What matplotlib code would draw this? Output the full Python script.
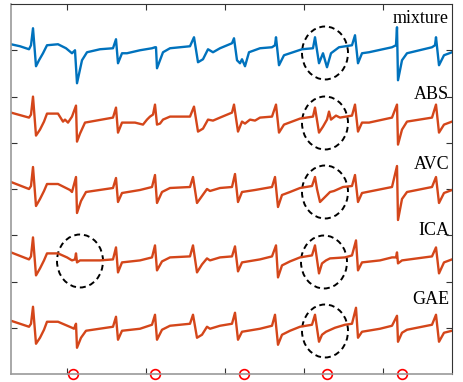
import numpy as np
import matplotlib
matplotlib.use("Agg")
import matplotlib.pyplot as plt
from matplotlib.patches import Ellipse

# signal samples: (sample, amplitude relative to trace baseline)
mixture = [
    (11, 6), (20, 4), (29, 1), (31, 5), (33, 22), (36, -16), (39, -10), (43, -3), (47, 5),
    (58, 6), (66, 2), (72, -3), (75, 0), (77, -33), (82, -10), (87, -2), (100, 1), (113, 2),
    (116, 11), (118, -13), (122, -3), (127, -3), (140, 0), (152, 2), (155, 3), (156, 3),
    (157, -18), (163, -2), (170, 2), (190, 4), (194, 13), (198, -12), (203, -9), (208, 1),
    (213, -2), (220, 2), (232, 7), (234, 12), (237, -10), (240, -13), (242, -9), (245, -16),
    (249, -2), (260, 2), (272, 3), (275, 5), (276, 13), (279, -15), (284, -5), (302, 1),
    (313, 2), (315, 13), (319, -13), (323, -3), (327, -17), (331, -3), (339, 3), (352, 5),
    (355, 15), (358, -13), (362, -3), (369, -2), (392, 3), (396, 5), (397, 23), (398, -30),
    (402, -10), (407, -3), (432, 3), (435, 5), (436, 13), (439, -15), (444, -5), (452, -2),
]
abs_est = [
    (11, 7), (29, 2), (31, 5), (33, 23), (36, -16), (40, -10), (44, -2), (47, 6), (58, 6),
    (63, -2), (65, 0), (68, -3), (70, 0), (72, 3), (76, 14), (77, -22), (80, -14), (85, -3),
    (113, 2), (116, 12), (118, -13), (122, -3), (135, -3), (143, -5), (147, 0), (150, 3),
    (153, 5), (155, 15), (157, -5), (160, -4), (163, 0), (170, 3), (190, 3), (194, 13),
    (198, -12), (203, -9), (208, 0), (213, -1), (220, 2), (232, 7), (234, 15), (238, -12),
    (242, -2), (245, -4), (250, 0), (255, -1), (260, 2), (272, 3), (276, 15), (279, -13),
    (284, -5), (300, 1), (313, 3), (315, 12), (319, -13), (323, -7), (327, 0), (329, 8),
    (331, 0), (336, 4), (340, 2), (352, 4), (355, 15), (358, -12), (362, -3), (369, -3),
    (392, 2), (397, 15), (398, -25), (402, -10), (407, -2), (432, 2), (436, 15), (439, -13),
    (444, -5), (452, -2),
]
avc_est = [
    (11, 7), (29, 0), (31, 3), (33, 22), (36, -17), (40, -10), (44, -2), (47, 5), (58, 5),
    (70, -1), (72, -3), (76, 12), (77, -24), (81, -12), (86, -3), (113, 1), (116, 11),
    (118, -13), (122, -4), (140, -1), (152, 2), (155, 14), (157, -14), (162, -3), (170, 1),
    (190, 2), (193, 12), (197, -14), (202, -7), (207, 0), (210, -2), (220, 1), (232, 2),
    (235, 15), (238, -13), (242, -3), (255, -1), (272, 2), (275, 12), (278, -18), (282, -6),
    (290, -3), (300, 1), (312, 3), (315, 12), (317, 0), (320, -13), (323, -10), (326, -7),
    (330, -3), (334, -2), (343, 2), (352, 3), (355, 14), (358, -13), (362, -4), (372, -2),
    (392, 2), (397, 23), (398, -31), (402, -10), (407, -3), (432, 2), (436, 12), (439, -14),
    (444, -4), (452, -1),
]
ica_est = [
    (11, 6), (29, -1), (31, 2), (33, 21), (36, -17), (40, -10), (44, -2), (47, 5), (58, 5),
    (67, 1), (72, -2), (75, -1), (76, 5), (77, -4), (80, -2), (100, -2), (113, -1),
    (116, 11), (118, -14), (122, -4), (140, -2), (152, 1), (155, 13), (157, -12), (162, -3),
    (170, 1), (190, 2), (193, 13), (197, -14), (202, -6), (207, 0), (210, -2), (220, 1),
    (232, 2), (235, 12), (238, -13), (242, -4), (260, -1), (272, 2), (276, 13), (278, -19),
    (282, -7), (290, -3), (300, 1), (312, 3), (315, 13), (319, -15), (322, -5), (326, -2),
    (330, 0), (345, 1), (352, 3), (356, 18), (358, -12), (362, -4), (380, -2), (392, 1),
    (396, 1), (397, 6), (398, -5), (402, -2), (432, 2), (436, 11), (439, -15), (444, -4),
    (452, -1),
]
gae_est = [
    (11, 7), (29, 1), (31, 4), (33, 21), (36, -16), (40, -10), (44, -2), (47, 6), (58, 6),
    (72, 0), (74, -1), (76, 4), (77, -20), (81, -10), (86, -3), (113, 1), (116, 11),
    (118, -12), (122, -3), (140, -1), (152, 3), (155, 13), (157, -12), (162, -2), (170, 2),
    (190, 4), (193, 13), (197, -10), (202, -7), (207, 1), (210, -1), (220, 2), (232, 4),
    (235, 15), (238, -12), (242, -4), (260, -1), (272, 2), (275, 13), (278, -17), (282, -7),
    (290, -3), (300, 1), (312, 3), (315, 13), (319, -14), (322, -7), (326, -4), (335, 0),
    (345, 3), (352, 4), (356, 20), (358, -10), (362, -4), (380, -1), (392, 2), (397, 12),
    (398, -14), (402, -5), (407, -2), (432, 3), (436, 13), (439, -14), (444, -5), (452, -3),
]

names = ["mixture", "ABS", "AVC", "ICA", "GAE"]
traces = [mixture, abs_est, avc_est, ica_est, gae_est]
offsets = [323.75, 254.4, 185.0, 115.6, 46.25]
colors = ["#0072BD", "#D4461A", "#D4461A", "#D4461A", "#D4461A"]
label_y = [351, 275, 205, 139, 70]

# marked beats along the bottom
marks = [73, 155, 244, 327, 402]

# dashed regions of interest (sample, level)
rois = [(325, 321), (325, 251), (325, 182), (324, 112), (80, 113), (325, 43)]

fig = plt.figure(figsize=(4.64, 3.82), dpi=100)
ax = fig.add_axes([11 / 464, 8 / 382, 441 / 464, 370 / 382])

for tr, off, c in zip(traces, offsets, colors):
    arr = np.array(tr, dtype=float)
    ax.plot(arr[:, 0], arr[:, 1] + off, color=c, lw=1.7, solid_joinstyle="round")

for name, ly in zip(names, label_y):
    ax.text(449, ly, name, ha="right", va="baseline", fontsize=13,
            family="Liberation Serif", color="black")

for cx, cy in rois:
    ax.add_patch(Ellipse((cx, cy), 46, 53, fill=False, ls=(0, (3, 2)), lw=1.4, color="black"))

ax.plot(marks, [0] * len(marks), "o", mfc="none", mec="red", ms=7, mew=1.2, clip_on=False)

ax.set_xlim(11, 452)
ax.set_ylim(0, 370)
ax.set_xticks([67, 146, 225, 304, 383])
ax.set_yticks([46.25 * k for k in range(1, 8)])
ax.set_xticklabels([])
ax.set_yticklabels([])
ax.tick_params(direction="in", length=4, top=True, right=True, color="#333333", width=0.8)
for side in ["top", "right"]:
    ax.spines[side].set_color("#333333")
    ax.spines[side].set_linewidth(0.8)
for side in ["left", "bottom"]:
    ax.spines[side].set_color("#9a9a9a")
    ax.spines[side].set_linewidth(1.2)

fig.savefig("out.png", dpi=100)
